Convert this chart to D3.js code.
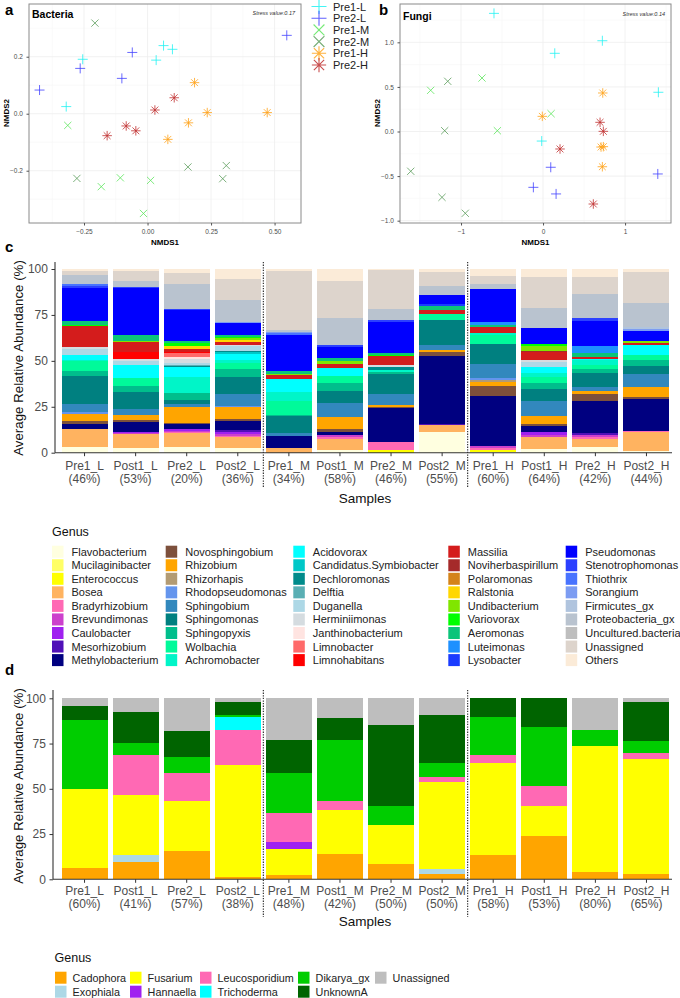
<!DOCTYPE html>
<html><head><meta charset="utf-8">
<script src="https://cdn.jsdelivr.net/npm/d3@7"></script>
<style>body{margin:0;background:#fff}svg{display:block;font-family:"Liberation Sans",Arial,sans-serif}</style>
</head><body>
<script>
// ---------- NMDS data (panel a: Bacteria) ----------
const nmdsGroups = ["Pre1-L","Pre2-L","Pre1-M","Pre2-M","Pre1-H","Pre2-H"];
const nmdsColors = ["#22f2f2","#4444ff","#5ee65e","#5c9e5c","#ffa31a","#c03030"];
const nmdsShapes = ["plus","plus","cross","cross","star","star"];
const bac_Pre1L = [[-0.255,0.191],[-0.32,0.025],[0.063,0.239],[0.098,0.226],[0.034,0.188]];
const bac_Pre2L = [[-0.425,0.083],[-0.265,0.159],[-0.101,0.124],[-0.06,0.215],[0.548,0.275]];
const bac_Pre1M = [[-0.314,-0.041],[-0.182,-0.256],[-0.107,-0.225],[0.012,-0.234],[-0.016,-0.35]];
const bac_Pre2M = [[-0.207,0.318],[-0.278,-0.227],[0.159,-0.187],[0.31,-0.182],[0.296,-0.228]];
const bac_Pre1H = [[0.185,0.109],[0.235,0.004],[0.161,-0.032],[0.08,-0.09],[0.471,0.004]];
const bac_Pre2H = [[0.105,0.056],[0.029,0.013],[-0.084,-0.043],[-0.046,-0.06],[-0.159,-0.077]];
// ---------- NMDS data (panel b: Fungi) ----------
const fun_Pre1L = [[-0.598,1.325],[0.723,1.018],[0.143,0.877],[1.406,0.44],[-0.016,-0.107]];
const fun_Pre2L = [[0.094,-0.401],[-0.118,-0.626],[0.159,-0.70],[1.399,-0.476]];
const fun_Pre1M = [[-1.37,0.462],[-0.744,0.60],[0.098,0.2],[-0.557,0.009]];
const fun_Pre2M = [[-1.162,0.563],[-1.199,0.009],[-1.613,-0.446],[-1.232,-0.738],[-0.948,-0.917]];
const fun_Pre1H = [[-0.009,0.17],[0.728,0.432],[0.707,-0.174],[0.735,-0.17],[0.723,-0.395]];
const fun_Pre2H = [[0.695,0.103],[0.735,0.002],[0.207,-0.196],[0.613,-0.813]];
const bacTicksX = [-0.25,0,0.25,0.5], bacTicksY = [-0.2,0,0.2];
const funTicksX = [-1,0,1], funTicksY = [-1,-0.5,0,0.5,1];

// ---------- Bar chart samples ----------
const samples = ["Pre1_L","Post1_L","Pre2_L","Post2_L","Pre1_M","Post1_M","Pre2_M","Post2_M","Pre1_H","Post1_H","Pre2_H","Post2_H"];
const bacPct = ["46%","53%","20%","36%","34%","58%","46%","55%","60%","64%","42%","44%"];
const funPct = ["60%","41%","57%","38%","48%","42%","50%","50%","58%","53%","80%","65%"];
const yTicks = [0,25,50,75,100];

// ---------- Bacterial genera (stack order, bottom -> top) ----------
const bacGenera = ["Flavobacterium","Mucilaginibacter","Enterococcus","Bosea","Bradyrhizobium","Brevundimonas","Caulobacter","Mesorhizobium","Methylobacterium",
"Novosphingobium","Rhizobium","Rhizorhapis","Rhodopseudomonas","Sphingobium","Sphingomonas","Sphingopyxis","Wolbachia","Achromobacter",
"Acidovorax","Candidatus.Symbiobacter","Dechloromonas","Delftia","Duganella","Herminiimonas","Janthinobacterium","Limnobacter","Limnohabitans",
"Massilia","Noviherbaspirillum","Polaromonas","Ralstonia","Undibacterium","Variovorax","Aeromonas","Luteimonas","Lysobacter",
"Pseudomonas","Stenotrophomonas","Thiothrix","Sorangium","Firmicutes_gx","Proteobacteria_gx","Uncultured.bacteria","Unassigned","Others"];
const bacColors = ["#ffffe0","#ffff66","#ffff00","#ffb360","#ff69b4","#cc40cc","#a020f0","#5010b8","#000080",
"#7d503c","#ffa500","#b39b73","#6495ed","#3288bd","#008080","#00be8c","#00fa9a","#00f5c8",
"#00ffff","#00c8c8","#008b8b","#5aafb4","#add8e6","#d5dce0","#ffe4e1","#ff6a6a","#ff0000",
"#d41c1c","#a52a2a","#d4831a","#ffd700","#80e600","#00ff00","#0cc47a","#1e90ff","#1a3cff",
"#0000ff","#2b40ff","#4873ff","#7c9cf2","#b0c4de","#b9c3cf","#bebebe","#ddd4cc","#fbebd8"];
// values per sample, in bacGenera order (%)
const bac_Pre1_L  = [3,0,0,9.7,0.3, 0,0,0,2.5,2, 3.6,0,1,4.2,15.4, 3,5,0.5,3.1,0, 0,0,3,1.3,0, 0,0,11.3,0,0, 0,0,0.5,2.5,0, 0,18,1,0.8,0, 0,5.3,0,2,1];
const bac_Post1_L = [2.5,0,0,7.6,0, 0.5,0.6,0,5.4,1, 2.7,0,0.3,3,9.6, 3,4.5,0,7.2,0, 0,0,2.2,1,0, 0,3.8,5.3,0,0, 0,0.5,0,3.3,0, 0,25.4,1,0,0, 0,3,0,5.4,1.2];
const bac_Pre2_L  = [3.3,0,0,7.2,0.5, 0.8,1.2,0,2.7,0.5, 8.5,0,0,1.8,2.3, 3.5,0,8.7,5.4,0.5, 0.5,0.6,1,1.8,1.2, 2.4,0.6,1.2,0,0.3, 1.5,0,1.8,1,0, 0,16.9,0.5,0,0, 0,13.8,0,6,2];
const bac_Post2_L = [2.4,0,0,6,0.9, 0.9,1.2,0.9,4.9,1.3, 6.5,0,0.5,6.4,9.4, 4.5,3,1.5,3.6,0.9, 0.7,0,2.4,0.5,0, 0,0,1.6,0,0, 1.1,1.5,0.6,0.7,0, 0,6.5,0,0,0.5, 0.5,11.6,0,11.6,5.4];
const bac_Pre1_M  = [0,0,0,2.4,0, 0,0,0,6.7,0, 0,0,0,1.8,9, 0.5,7.5,5.3,6.9,0, 0,0,0,0,0, 0,0,2.4,0,0, 0,0.6,0,1.2,0, 0,20,0,0.6,0.7, 0,1.3,0,32.1,1];
const bac_Post1_M = [1.5,0,0,6,1.3, 0.9,0,0,1.5,1.6, 6.5,0,0,8,6.2, 4.4,3.6,0,4.5,0, 0,0,0,0,0, 0,0,2.4,0,0, 0,1.3,0,1.6,0, 0,6.5,0.7,0,0, 0,14.7,0,20.5,6.3];
const bac_Pre2_M  = [0,0,1.5,0,4.2, 0,0,0,18.5,0.9, 0.9,0,0,6,10.9, 1.3,0,0.9,0,0, 1.8,0,0,0.9,0, 0,0,4.9,0,0, 0,0,0.5,1,0, 0,16.7,1.1,0,0, 0,6.4,0,21.2,0.4];
const bac_Post2_M = [11.5,0,0,3.6,0, 0,0,0.5,37.2,2.2, 0.9,0,0,2.7,13.6, 0,3.1,0,0,0, 0,0,0,0,0, 0,0,2.2,0,0, 0,0,0,2.5,0, 0.9,4.9,0,0,0, 0,5.1,0,7.6,1.5];
const bac_Pre1_H  = [0.5,0,1,0,1.1, 1.3,0,0,27,5.4, 2.2,1.3,1.1,7.3,10.9, 0,5.1,0.9,0,0, 0,0,0,0,0, 0,0,3.1,0,0, 0,0,0,1.5,1.5, 0,18.1,0,0,0, 0,2.5,0,4.2,4];
const bac_Post1_H = [1.8,0,0,6.9,0, 0.9,1.6,0,3.3,1.1, 4.4,0,0,8.3,6.2, 3.6,3.3,1.8,3.6,0, 0,0,2.7,0.9,0, 0,0,4.5,0.5,0, 0,2.5,1.1,0,0, 0,8.9,0,0,0, 0,11.1,0,16.7,4.3];
const bac_Pre2_H  = [3.3,0,0,4.2,1.3, 1.1,0,0.7,17.8,3.3, 2,0,0,1.8,7.8, 2.2,2.4,2.4,0.7,0, 0,0,0,0,0, 0,0,1.1,0,0, 0,0,0,2.2,4, 0,13.2,1.8,0,0, 0,13.2,0,9.4,4.1];
const bac_Post2_H = [0.9,0,0,10.2,0.5, 0,0,0,17.4,1.5, 5.4,0,0,6.9,4.4, 3.3,2.5,0,5.6,0, 0,0,0,0,0, 0,0,1.3,0,0, 0,0.7,0,0,0, 0,5.8,0,0,1.1, 1.1,12.7,0,17.2,1.5];
const bacRows = [bac_Pre1_L,bac_Post1_L,bac_Pre2_L,bac_Post2_L,bac_Pre1_M,bac_Post1_M,bac_Pre2_M,bac_Post2_M,bac_Pre1_H,bac_Post1_H,bac_Pre2_H,bac_Post2_H];

// ---------- Fungal genera ----------
const funGenera = ["Cadophora","Exophiala","Fusarium","Hannaella","Leucosporidium","Trichoderma","Dikarya_gx","UnknownA","Unassigned"];
const funColors = ["#ffa500","#add8e6","#ffff00","#a020f0","#ff69b4","#00ffff","#00cd00","#006400","#bebebe"];
const fun_Pre1_L  = [6.4,0,43.5,0,0,0,38.1,7.7,4.3];
const fun_Post1_L = [9.6,3.9,33.1,0,22.1,0,6.8,16.8,7.7];
const fun_Pre2_L  = [15.7,0,27.8,0,15.5,0,8.5,14.2,18.3];
const fun_Post2_L = [1.3,0,62,0,19.2,7.4,0.9,7,2.2];
const fun_Pre1_M  = [2.2,0,14.5,4.1,16,0,21.9,18.3,23];
const fun_Post1_M = [14,0,24.5,0,4.6,0,33.9,12,11];
const fun_Pre2_M  = [8.5,0,21.4,0,0,0,10.7,44.8,14.6];
const fun_Post2_M = [3,2.6,48,0,3.1,0,7.4,26.5,9.4];
const fun_Pre1_H  = [13.3,0,50.8,0,4.6,0,21.2,10.1,0];
const fun_Post1_H = [24.1,0,16.4,0,11.2,0,32.6,15.7,0];
const fun_Pre2_H  = [4,0,69.6,0,0,0,8.8,0,17.6];
const fun_Post2_H = [2.8,0,63.7,0,3.3,0,6.8,21.2,2.2];
const funRows = [fun_Pre1_L,fun_Post1_L,fun_Pre2_L,fun_Post2_L,fun_Pre1_M,fun_Post1_M,fun_Pre2_M,fun_Post2_M,fun_Pre1_H,fun_Post1_H,fun_Pre2_H,fun_Post2_H];

// ================= drawing =================
const svg = d3.select("body").append("svg").attr("width",680).attr("height",998);

function shapePath(shape, s){
  if(shape==="plus") return `M${-s},0L${s},0M0,${-s}L0,${s}`;
  if(shape==="cross"){const c=s*0.72;return `M${-c},${-c}L${c},${c}M${-c},${c}L${c},${-c}`;}
  const c=s*0.72*0.95, p=s*0.95;
  return `M${-p},0L${p},0M0,${-p}L0,${p}M${-c},${-c}L${c},${c}M${-c},${c}L${c},${-c}`;
}

function nmds(cfg){
  const g = svg.append("g");
  const x = d3.scaleLinear().domain(cfg.xd).range([cfg.x0,cfg.x1]);
  const y = d3.scaleLinear().domain(cfg.yd).range([223,4]);
  const minorX = cfg.tx.slice(0,-1).map((v,i)=>(v+cfg.tx[i+1])/2).concat([cfg.tx[0]-(cfg.tx[1]-cfg.tx[0])/2, cfg.tx[cfg.tx.length-1]+(cfg.tx[1]-cfg.tx[0])/2]);
  const minorY = cfg.ty.slice(0,-1).map((v,i)=>(v+cfg.ty[i+1])/2).concat([cfg.ty[0]-(cfg.ty[1]-cfg.ty[0])/2, cfg.ty[cfg.ty.length-1]+(cfg.ty[1]-cfg.ty[0])/2]);
  g.selectAll(".gmx").data(minorX.filter(v=>v>cfg.xd[0]&&v<cfg.xd[1])).join("line").attr("x1",d=>x(d)).attr("x2",d=>x(d)).attr("y1",4).attr("y2",223).attr("stroke","#f6f6f6").attr("stroke-width",0.6);
  g.selectAll(".gmy").data(minorY.filter(v=>v>cfg.yd[0]&&v<cfg.yd[1])).join("line").attr("y1",d=>y(d)).attr("y2",d=>y(d)).attr("x1",cfg.x0).attr("x2",cfg.x1).attr("stroke","#f6f6f6").attr("stroke-width",0.6);
  g.selectAll(".gx").data(cfg.tx).join("line").attr("x1",d=>x(d)).attr("x2",d=>x(d)).attr("y1",4).attr("y2",223).attr("stroke","#ededed").attr("stroke-width",0.8);
  g.selectAll(".gy").data(cfg.ty).join("line").attr("y1",d=>y(d)).attr("y2",d=>y(d)).attr("x1",cfg.x0).attr("x2",cfg.x1).attr("stroke","#ededed").attr("stroke-width",0.8);
  cfg.sets.forEach((pts,i)=>{
    g.selectAll(null).data(pts).join("path")
      .attr("transform",d=>`translate(${x(d[0])},${y(d[1])})`)
      .attr("d",shapePath(nmdsShapes[i],5))
      .attr("fill","none").attr("stroke",nmdsColors[i]).attr("stroke-width",1).attr("stroke-opacity",0.8);
  });
  g.append("rect").attr("x",cfg.x0).attr("y",4).attr("width",cfg.x1-cfg.x0).attr("height",219).attr("fill","none").attr("stroke","#8a8a8a").attr("stroke-width",1);
  const ax = g.append("g").attr("transform","translate(0,223)").call(d3.axisBottom(x).tickValues(cfg.tx).tickSize(2.5).tickFormat(cfg.fx));
  const ay = g.append("g").attr("transform",`translate(${cfg.x0},0)`).call(d3.axisLeft(y).tickValues(cfg.ty).tickSize(2.5).tickFormat(cfg.fy));
  [ax,ay].forEach(a=>{a.select(".domain").remove();a.selectAll("line").attr("stroke","#555");a.selectAll("text").attr("font-size",6.5).attr("fill","#4d4d4d").attr("font-family","Liberation Sans, Arial");});
  ax.selectAll("text").attr("dy","0.9em");
  ay.selectAll("text").attr("dx","-0.1em");
  g.append("text").attr("x",(cfg.x0+cfg.x1)/2).attr("y",245).attr("text-anchor","middle").attr("font-size",8).attr("font-weight","bold").text("NMDS1");
  g.append("text").attr("transform",`translate(${cfg.x0-20.5},113) rotate(-90)`).attr("text-anchor","middle").attr("font-size",8).attr("font-weight","bold").text("NMDS2");
  g.append("text").attr("x",cfg.x0+3).attr("y",cfg.titleY).attr("font-size",10.5).attr("font-weight","bold").text(cfg.title);
  g.append("text").attr("x",cfg.x1-6).attr("y",cfg.stressY).attr("text-anchor","end").attr("font-size",5.5).attr("font-style","italic").attr("fill","#333").text(cfg.stress);
  g.append("text").attr("x",cfg.labelX).attr("y",15).attr("font-size",15).attr("font-weight","bold").text(cfg.label);
}

nmds({x0:29,x1:301,xd:[-0.4665,0.604],yd:[-0.3835,0.385],tx:bacTicksX,ty:bacTicksY,
  fx:d3.format(".2f"),fy:d3.format(".1f"),sets:[bac_Pre1L,bac_Pre2L,bac_Pre1M,bac_Pre2M,bac_Pre1H,bac_Pre2H],
  title:"Bacteria",titleY:18,stress:"Stress value:0.17",stressY:15,label:"a",labelX:5});
nmds({x0:400,x1:671,xd:[-1.744,1.56],yd:[-1.026,1.43],tx:funTicksX,ty:funTicksY,
  fx:d3.format("d"),fy:d3.format(".1f"),sets:[fun_Pre1L,fun_Pre2L,fun_Pre1M,fun_Pre2M,fun_Pre1H,fun_Pre2H],
  title:"Fungi",titleY:20,stress:"Stress value:0.14",stressY:16,label:"b",labelX:379});

// NMDS legend
const lg = svg.append("g");
nmdsGroups.forEach((n,i)=>{
  const yy = 6.5 + i*11.7;
  lg.append("path").attr("transform",`translate(319,${yy})`).attr("d",shapePath(nmdsShapes[i],7.5))
    .attr("fill","none").attr("stroke",nmdsColors[i]).attr("stroke-width",1.1).attr("stroke-opacity",0.85);
  lg.append("text").attr("x",333).attr("y",yy+4).attr("font-size",11).attr("fill","#222").text(n);
});

// ---------- stacked bars ----------
function bars(cfg){
  const g = svg.append("g");
  const x = d3.scaleBand().domain(samples).range([59,672]).paddingInner(0.1).paddingOuter(0.05);
  const y = d3.scaleLinear().domain([0,100]).range([cfg.y0,cfg.y100]);
  const table = samples.map((s,i)=>{const o={sample:s};cfg.genera.forEach((k,j)=>o[k]=cfg.rows[i][j]);return o;});
  const series = d3.stack().keys(cfg.genera)(table);
  series.forEach((ser,j)=>{
    g.selectAll(null).data(ser.filter(d=>d[1]-d[0]>0)).join("rect")
      .attr("x",d=>x(d.data.sample)).attr("width",x.bandwidth())
      .attr("y",d=>y(d[1])).attr("height",d=>y(d[0])-y(d[1]))
      .attr("fill",cfg.colors[j]).attr("shape-rendering","crispEdges");
  });
  [3,7].forEach(k=>{
    const xx = (x(samples[k])+x.bandwidth()+x(samples[k+1]))/2;
    g.append("line").attr("x1",xx).attr("x2",xx).attr("y1",cfg.dTop).attr("y2",cfg.dBot).attr("stroke","#222").attr("stroke-width",1.1).attr("stroke-dasharray","1.3,1.3");
  });
  const ay = g.append("g").attr("transform",`translate(${cfg.ax},0)`).call(d3.axisLeft(y).tickValues(yTicks).tickSize(3.5));
  ay.select(".domain").attr("d",`M0,${cfg.dTop}V${cfg.y0}`).attr("stroke","#333").attr("stroke-width",1.1);
  ay.selectAll("line").attr("stroke","#333");
  ay.selectAll("text").attr("font-size",12).attr("fill","#4d4d4d").attr("font-family","Liberation Sans, Arial").attr("dx","-0.05em");
  const ax = g.append("g").attr("transform",`translate(0,${cfg.y0})`).call(d3.axisBottom(x).tickSize(3.5).tickFormat(""));
  ax.select(".domain").attr("d",`M${cfg.ax},0H672`).attr("stroke","#333").attr("stroke-width",1.1);
  ax.selectAll("line").attr("stroke","#333");
  samples.forEach((s,i)=>{
    const cx = x(s)+x.bandwidth()/2;
    g.append("text").attr("x",cx).attr("y",cfg.l1).attr("text-anchor","middle").attr("font-size",12).attr("fill","#4d4d4d").text(s);
    g.append("text").attr("x",cx).attr("y",cfg.l2).attr("text-anchor","middle").attr("font-size",12).attr("fill","#4d4d4d").text(`(${cfg.pct[i]})`);
  });
  g.append("text").attr("x",365).attr("y",cfg.sy).attr("text-anchor","middle").attr("font-size",13.5).attr("fill","#111").text("Samples");
  g.append("text").attr("transform",`translate(23,${cfg.tcy}) rotate(-90)`).attr("text-anchor","middle").attr("font-size",13.3).attr("fill","#111").text("Average Relative Abundance (%)");
  g.append("text").attr("x",5).attr("y",cfg.labY).attr("font-size",15).attr("font-weight","bold").text(cfg.label);
}
bars({genera:bacGenera,colors:bacColors,rows:bacRows,pct:bacPct,y0:452.7,y100:269,ax:55,dTop:262,dBot:488,l1:469.5,l2:483,sy:503,tcy:358,labY:252,label:"c"});
bars({genera:funGenera,colors:funColors,rows:funRows,pct:funPct,y0:879.3,y100:698.3,ax:53,dTop:690,dBot:917,l1:895,l2:908,sy:926,tcy:786,labY:675,label:"d"});

// ---------- legends ----------
const lc = svg.append("g");
lc.append("text").attr("x",52).attr("y",536).attr("font-size",12.5).attr("fill","#111").text("Genus");
const colX = [52,165.7,293.3,448.3,565.7];
bacGenera.forEach((n,i)=>{
  const c = Math.floor(i/9), r = i%9;
  const yy = 551.7 + r*13.55;
  lc.append("rect").attr("x",colX[c]).attr("y",yy-6).attr("width",11.5).attr("height",12).attr("fill",bacColors[i]);
  lc.append("text").attr("x",colX[c]+19.5).attr("y",yy+4).attr("font-size",11).attr("fill","#222").text(n);
});
const ld = svg.append("g");
ld.append("text").attr("x",54.5).attr("y",962).attr("font-size",12.5).attr("fill","#111").text("Genus");
const dColX = [55,130,200,298,375];
funGenera.forEach((n,i)=>{
  const c = Math.floor(i/2), r = i%2;
  const yy = 977.7 + r*14;
  ld.append("rect").attr("x",dColX[c]).attr("y",yy-6).attr("width",11.5).attr("height",12).attr("fill",funColors[i]);
  ld.append("text").attr("x",dColX[c]+17.6).attr("y",yy+4).attr("font-size",10.8).attr("fill","#222").text(n);
});
</script>
</body></html>
